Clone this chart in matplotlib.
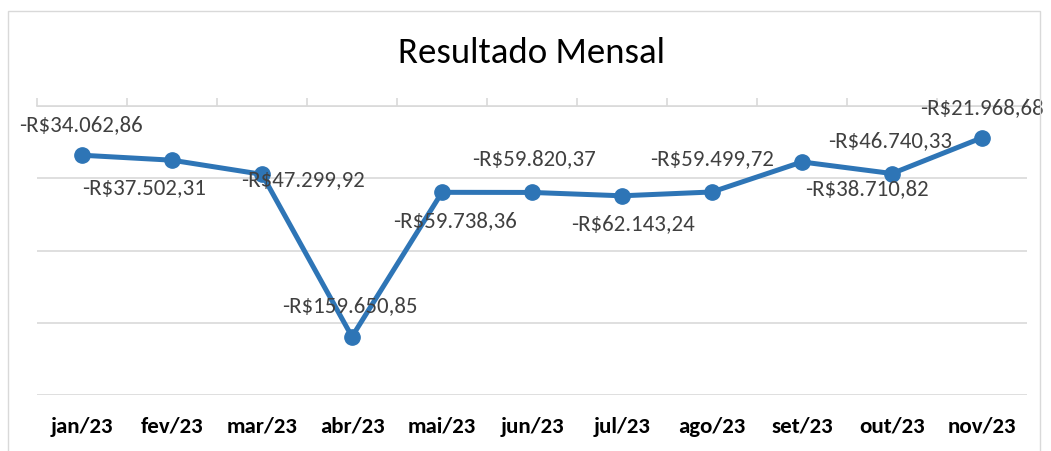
import matplotlib
matplotlib.use("Agg")
import matplotlib.pyplot as plt
from matplotlib.patches import Rectangle
import numpy as np

months = ["jan/23", "fev/23", "mar/23", "abr/23", "mai/23", "jun/23",
          "jul/23", "ago/23", "set/23", "out/23", "nov/23"]
values = [-34062.86, -37502.31, -47299.92, -159650.85, -59738.36, -59820.37,
          -62143.24, -59499.72, -38710.82, -46740.33, -21968.68]
labels = ["-R$34.062,86", "-R$37.502,31", "-R$47.299,92", "-R$159.650,85",
          "-R$59.738,36", "-R$59.820,37", "-R$62.143,24", "-R$59.499,72",
          "-R$38.710,82", "-R$46.740,33", "-R$21.968,68"]
# label offsets in pixels (dx, dy) relative to each point
offsets = [(-1, 31), (-28, -27), (41, -5), (-2, 32), (13, -28), (2, 34),
           (11, -27), (0, 34), (65, -26), (-2, 33), (0, 31)]

plt.rcParams['font.family'] = ['Carlito', 'Lato', 'DejaVu Sans']

fig = plt.figure(figsize=(10.51, 4.52), dpi=100)
fig.patch.set_facecolor('white')
fig.patches.append(Rectangle((8/1051, -0.1), (1040-8)/1051, 1.1 - 12/452,
                             transform=fig.transFigure, fill=False,
                             edgecolor='#d9d9d9', linewidth=1))

ax = fig.add_axes([37/1051, 1 - 396/452, 990/1051, 289/452])
x = np.arange(len(months))
color = '#2E75B6'
ax.plot(x, values, color=color, linewidth=3.6, marker='o', markersize=11,
        zorder=3, solid_capstyle='round')

for xi, v, lab, (dx, dy) in zip(x, values, labels, offsets):
    ax.annotate(lab, (xi, v), xytext=(dx, dy), textcoords='offset pixels',
                ha='center', va='center', fontsize=16.5, color='#404040', zorder=4)

ax.set_xlim(-0.5, len(months) - 0.5)
ax.set_ylim(-200000, 0)
ax.set_yticks([-200000, -150000, -100000, -50000, 0])
ax.yaxis.grid(True, color='#d9d9d9', linewidth=1.2)
ax.set_axisbelow(True)
for s in ['left', 'right', 'bottom']:
    ax.spines[s].set_visible(False)
ax.spines['top'].set_color('#d9d9d9')
ax.spines['top'].set_linewidth(1.2)
ax.tick_params(axis='y', left=False, labelleft=False)

ax.set_xticks(x)
ax.set_xticklabels(months, fontsize=16.5, fontweight='bold', color='black')
ax.set_xticks(np.arange(-0.5, len(months), 1), minor=True)
ax.tick_params(axis='x', which='major', length=0, pad=15)
ax.tick_params(axis='x', which='minor', bottom=False, top=True, length=6,
               color='#d9d9d9', width=1.2, direction='out')

fig.text(531/1051, 1 - 53/452, "Resultado Mensal", ha='center', va='center',
         fontsize=26.5, color='black')

fig.savefig("out.png", dpi=100)
